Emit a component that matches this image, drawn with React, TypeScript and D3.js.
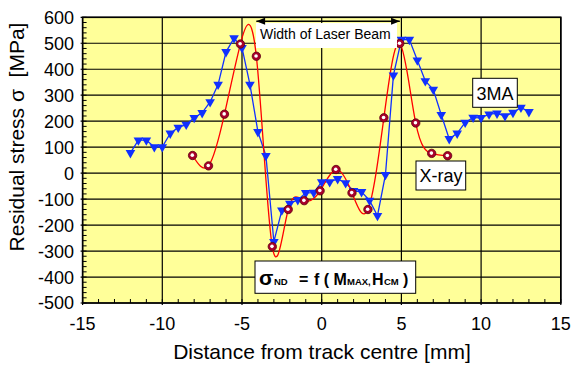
import React from 'react';
import * as d3 from 'd3';

// 3MA measurements (blue, 0.5 mm steps)
const maX = [
  -12, -11.5, -11, -10.5, -10, -9.5, -9, -8.5, -8, -7.5, -7, -6.5, -6, -5.5, -5, -4.5, -4, -3.5, -3, -2.5, -2, -1.5,
  -1, -0.5, 0, 0.5, 1, 1.5, 2, 2.5, 3, 3.5, 4, 4.5, 5, 5.5, 6, 6.5, 7, 7.5, 8, 8.5, 9, 9.5, 10, 10.5, 11, 11.5, 12,
  12.5, 13,
];
const maY = [
  78, 127, 127, 101, 101, 153, 176, 187, 213, 232, 274, 341, 467, 520, 483, 341, 159, 67, -264, -143, -117, -103,
  -76, -75, -34, -34, -22, -38, -68, -72, -105, -164, -6, 377, 514, 514, 435, 355, 322, 225, 132, 153, 195, 214, 213,
  227, 230, 220, 233, 253, 236,
];

// X-ray measurements (red)
const xrayX = [-8.1, -7.1, -6.1, -5.1, -4.1, -3.1, -2.1, -1.1, -0.1, 0.9, 1.9, 2.9, 3.9, 4.9, 5.9, 6.9, 7.9];
const xrayY = [68, 28, 227, 497, 450, -283, -140, -106, -68, 14, -76, -140, 213, 499, 193, 76, 67];

const xTicks = [-15, -10, -5, 0, 5, 10, 15];
const yTicks = [600, 500, 400, 300, 200, 100, 0, -100, -200, -300, -400, -500];

const W = 579;
const H = 368;
const font = '"Liberation Sans", Arial, sans-serif';

export default function App() {
  const x = d3.scaleLinear().domain([-15, 15]).range([82.6, 560.8]);
  const y = d3.scaleLinear().domain([-500, 600]).range([303, 17.3]);

  const ma = maX.map((v, i) => [v, maY[i]] as [number, number]);
  const xr = xrayX.map((v, i) => [v, xrayY[i]] as [number, number]);

  const blueLine = d3
    .line<[number, number]>()
    .x((d) => x(d[0]))
    .y((d) => y(d[1]));
  const redLine = d3
    .line<[number, number]>()
    .x((d) => x(d[0]))
    .y((d) => y(d[1]))
    .curve(d3.curveNatural);

  const tri = d3.symbol().type(d3.symbolTriangle).size(40)();

  const minorX = d3.range(-15, 15.01, 1);
  const minorY = d3.range(-500, 600.01, 20);

  const [x0, x1] = x.range();
  const [yb, yt] = y.range();

  return (
    <svg width={W} height={H} style={{ position: 'absolute', left: 0, top: 0, background: '#fff' }} fontFamily={font}>
      {/* plot background */}
      <rect x={x0} y={yt} width={x1 - x0} height={yb - yt} fill="#ffff99" />

      {/* grid */}
      {yTicks.map((t) => (
        <line key={'gy' + t} x1={x0 - 2} x2={x1} y1={y(t)} y2={y(t)} stroke="#000" strokeWidth={1.2} />
      ))}
      {xTicks.map((t) => (
        <line key={'gx' + t} x1={x(t)} x2={x(t)} y1={yt} y2={yb + 2} stroke="#000" strokeWidth={1.2} />
      ))}
      {minorX.map((t) => (
        <line key={'mx' + t} x1={x(t)} x2={x(t)} y1={yb - 4} y2={yb} stroke="#000" strokeWidth={1} />
      ))}
      {minorY.map((t) => (
        <line key={'my' + t} x1={x0} x2={x0 + 4} y1={y(t)} y2={y(t)} stroke="#000" strokeWidth={1} />
      ))}
      <rect x={x0} y={yt} width={x1 - x0} height={yb - yt} fill="none" stroke="#000" strokeWidth={1.6} />

      {/* tick labels */}
      {yTicks.map((t) => (
        <text key={'ly' + t} x={74} y={y(t)} dy="0.36em" textAnchor="end" fontSize={18} fill="#000">
          {t}
        </text>
      ))}
      {xTicks.map((t) => (
        <text key={'lx' + t} x={x(t)} y={330} textAnchor="middle" fontSize={18} fill="#000">
          {t}
        </text>
      ))}

      {/* axis titles */}
      <text x={322} y={359} textAnchor="middle" fontSize={21} fill="#000">
        Distance from track centre [mm]
      </text>
      <text
        transform={`translate(24,${137}) rotate(-90)`}
        textAnchor="middle"
        fontSize={21}
        fill="#000"
        xmlSpace="preserve"
      >
        {'Residual stress σ  [MPa]'}
      </text>

      {/* series */}
      <path d={blueLine(ma) || ''} fill="none" stroke="#1030ff" strokeWidth={1.3} />
      <path d={redLine(xr) || ''} fill="none" stroke="#ff0000" strokeWidth={1.3} />
      {ma.map((d, i) => (
        <path key={'t' + i} d={tri || ''} transform={`translate(${x(d[0])},${y(d[1])}) rotate(180)`} fill="#1030ff" />
      ))}
      {xr.map((d, i) => (
        <g key={'c' + i} transform={`translate(${x(d[0])},${y(d[1])})`}>
          <circle r={4.2} fill="#a8002a" stroke="#5a0010" strokeWidth={0.8} />
          <circle r={1.8} cx={-0.3} cy={-0.3} fill="#fff" />
        </g>
      ))}

      {/* laser beam width annotation */}
      <rect x={256} y={23} width={141} height={25} fill="#fff" />
      <text x={260} y={39} fontSize={14} fill="#000">
        Width of Laser Beam
      </text>
      <defs>
        <marker id="ah" viewBox="0 0 10 8" refX={10} refY={4} markerWidth={10} markerHeight={7} orient="auto-start-reverse" markerUnits="userSpaceOnUse">
          <path d="M0,0L10,4L0,8Z" fill="#000" />
        </marker>
      </defs>
      <line
        x1={x(-4.1)}
        x2={x(4.9)}
        y1={y(585)}
        y2={y(585)}
        stroke="#000"
        strokeWidth={1.6}
        markerStart="url(#ah)"
        markerEnd="url(#ah)"
      />

      {/* series labels */}
      <rect x={472.7} y={78.3} width={44.6} height={29} fill="#fff" stroke="#000" strokeWidth={1} />
      <text x={495} y={99.5} textAnchor="middle" fontSize={18} fill="#000">
        3MA
      </text>
      <rect x={416} y={161} width={49.7} height={29} fill="#fff" stroke="#000" strokeWidth={1} />
      <text x={441} y={182} textAnchor="middle" fontSize={18} fill="#000">
        X-ray
      </text>

      {/* formula box */}
      <rect x={255} y={261} width={160.7} height={32.3} fill="#fff" stroke="#000" strokeWidth={1} />
      <g fontWeight="bold" fill="#000">
        <text x={259} y={285} fontSize={21}>σ</text>
        <text x={274} y={285} fontSize={9.5}>ND</text>
        <text x={299} y={285} fontSize={16}>=</text>
        <text x={314} y={285} fontSize={16} xmlSpace="preserve">{'f ( M'}</text>
        <text x={347} y={285} fontSize={9.5}>MAX,</text>
        <text x={372} y={285} fontSize={16}>H</text>
        <text x={384} y={285} fontSize={9.5}>CM</text>
        <text x={403} y={285} fontSize={16}>)</text>
      </g>
    </svg>
  );
}
